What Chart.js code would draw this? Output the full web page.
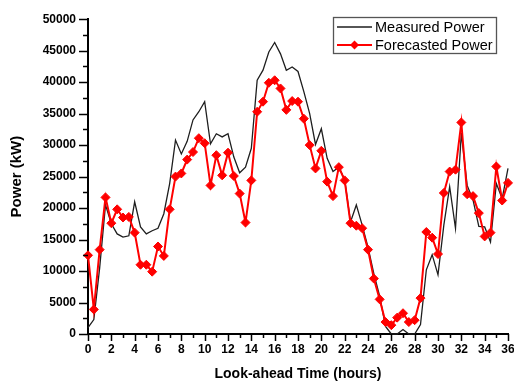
<!DOCTYPE html>
<html>
<head>
<meta charset="utf-8">
<script src="https://cdn.jsdelivr.net/npm/chart.js@4/dist/chart.umd.min.js"></script>
<style>
  html, body { margin: 0; padding: 0; background: #ffffff; }
  #wrap { width: 514px; height: 381px; }
</style>
</head>
<body>
<div id="wrap"><canvas id="c" width="514" height="381"></canvas></div>
<script>
// Look-ahead time (hours)
const hours = [0,0.5,1,1.5,2,2.5,3,3.5,4,4.5,5,5.5,6,6.5,7,7.5,8,8.5,9,9.5,10,10.5,11,11.5,12,12.5,13,13.5,14,14.5,15,15.5,16,16.5,17,17.5,18,18.5,19,19.5,20,20.5,21,21.5,22,22.5,23,23.5,24,24.5,25,25.5,26,26.5,27,27.5,28,28.5,29,29.5,30,30.5,31,31.5,32,32.5,33,33.5,34,34.5,35,35.5,36];

// Measured power (kW)
const measured = [1000,2300,10500,20500,17500,15900,15400,15600,21000,17000,15900,16400,16800,19100,23900,30800,28600,30600,34000,35300,36900,30200,31800,31300,31800,28100,25600,26500,29500,40300,41900,44800,46300,44500,41900,42400,41700,38500,35000,30100,32600,27900,25800,26500,24500,17800,20500,17300,13800,9600,6000,1200,0,0,700,0,0,1500,10200,12600,9400,17300,23400,16800,31900,23600,21300,17100,17000,14600,23900,21500,26300];

// Forecasted power (kW)
const forecasted = [12500,3900,13400,21700,17600,19800,18500,18600,16100,11000,11000,9900,13900,12400,19800,25000,25500,27700,28900,31100,30300,23600,28400,25200,28800,25100,22300,17700,24400,35300,36900,39900,40300,39000,35600,37000,36900,34200,30000,26300,29100,24200,21900,26500,24400,17600,17200,16800,13400,8800,5500,1900,1400,2600,3300,1900,2200,5700,16200,15300,12700,22400,25800,26100,33600,22200,21900,19200,15500,16100,26600,21200,24000];

const seriesNames = ['Measured Power', 'Forecasted Power'];
const xTitle = 'Look-ahead Time (hours)';
const yTitle = 'Power (kW)';

const FONT = "'Liberation Sans', Arial, sans-serif";

const toPoints = vals => hours.map((h, i) => ({ x: h, y: vals[i] }));

// outward major/minor ticks on both axes
const axisTicks = {
  id: 'axisTicks',
  afterDraw(chart) {
    const ctx = chart.ctx;
    const xs = chart.scales.x, ys = chart.scales.y;
    const area = chart.chartArea;
    ctx.save();
    ctx.strokeStyle = '#000';
    ctx.lineWidth = 1.5;
    for (let v = xs.min; v <= xs.max + 1e-9; v += 1) {
      const px = Math.round(xs.getPixelForValue(v)) + 0.5;
      const len = (v % 2 === 0) ? 7 : 4;
      ctx.beginPath();
      ctx.moveTo(px, area.bottom);
      ctx.lineTo(px, area.bottom + len);
      ctx.stroke();
    }
    for (let v = ys.min; v <= ys.max + 1e-9; v += 2500) {
      const py = Math.round(ys.getPixelForValue(v)) + 0.5;
      const len = (v % 5000 === 0) ? 9 : 5;
      ctx.beginPath();
      ctx.moveTo(area.left, py);
      ctx.lineTo(area.left - len, py);
      ctx.stroke();
    }
    ctx.restore();
  }
};

// framed legend inside the plot (top right)
const boxLegend = {
  id: 'boxLegend',
  afterDraw(chart) {
    const ctx = chart.ctx;
    const ds = chart.data.datasets;
    const bx = 333.5, by = 17.5, bw = 163, bh = 36;
    ctx.save();
    ctx.fillStyle = '#ffffff';
    ctx.fillRect(bx, by, bw, bh);
    ctx.strokeStyle = '#555555';
    ctx.lineWidth = 1.3;
    ctx.strokeRect(bx, by, bw, bh);
    const rows = [27, 45];
    ds.forEach((d, i) => {
      const y = rows[i];
      ctx.strokeStyle = d.borderColor;
      ctx.lineWidth = d.borderWidth;
      ctx.beginPath();
      ctx.moveTo(337, y);
      ctx.lineTo(372, y);
      ctx.stroke();
      if (d.pointRadius > 0) {
        const r = d.pointRadius, cx = 354.5;
        ctx.fillStyle = d.pointBackgroundColor;
        ctx.beginPath();
        ctx.moveTo(cx, y - r);
        ctx.lineTo(cx + r, y);
        ctx.lineTo(cx, y + r);
        ctx.lineTo(cx - r, y);
        ctx.closePath();
        ctx.fill();
      }
      ctx.fillStyle = '#000';
      ctx.font = '14.5px ' + FONT;
      ctx.textBaseline = 'middle';
      ctx.textAlign = 'left';
      ctx.fillText(d.label, 375, y + 0.5);
    });
    ctx.restore();
  }
};

new Chart(document.getElementById('c'), {
  type: 'line',
  data: {
    datasets: [
      {
        label: seriesNames[0],
        data: toPoints(measured),
        borderColor: '#1e1e1e',
        backgroundColor: '#1e1e1e',
        borderWidth: 1.3,
        pointRadius: 0,
        tension: 0,
        order: 1,
        clip: 6
      },
      {
        label: seriesNames[1],
        data: toPoints(forecasted),
        borderColor: '#ff0000',
        backgroundColor: '#ff0000',
        pointBackgroundColor: '#ff0000',
        pointBorderColor: '#ff0000',
        borderWidth: 2,
        pointStyle: 'rectRot',
        pointRadius: 4.5,
        pointBorderWidth: 1,
        tension: 0,
        order: 0,
        clip: 8
      }
    ]
  },
  options: {
    responsive: false,
    animation: false,
    devicePixelRatio: 1,
    layout: { padding: { top: 19, right: 0, left: 0, bottom: 0 } },
    plugins: {
      legend: { display: false },
      tooltip: { enabled: false }
    },
    scales: {
      x: {
        type: 'linear',
        min: 0,
        max: 36,
        afterFit: s => { s.height = 47; s.paddingRight = 6; s.paddingLeft = 0; },
        grid: { display: false, drawTicks: false },
        border: { display: true, color: '#000', width: 2 },
        ticks: {
          stepSize: 2,
          padding: 8,
          color: '#000',
          maxRotation: 0,
          autoSkip: false,
          callback: v => String(v),
          font: { family: FONT, size: 12, weight: 'bold' }
        },
        title: {
          display: true,
          text: xTitle,
          color: '#000',
          padding: { top: 0, bottom: 0 },
          font: { family: FONT, size: 14, weight: 'bold', lineHeight: 1 }
        }
      },
      y: {
        min: 0,
        max: 50000,
        afterFit: s => { s.width = 88; },
        grid: { display: false, drawTicks: false },
        border: { display: true, color: '#000', width: 2 },
        ticks: {
          stepSize: 5000,
          padding: 12,
          color: '#000',
          callback: v => String(v),
          font: { family: FONT, size: 12, weight: 'bold' }
        },
        title: {
          display: true,
          text: yTitle,
          color: '#000',
          padding: { top: 9, bottom: 0 },
          font: { family: FONT, size: 15, weight: 'bold', lineHeight: 1 }
        }
      }
    }
  },
  plugins: [axisTicks, boxLegend]
});
</script>
</body>
</html>
